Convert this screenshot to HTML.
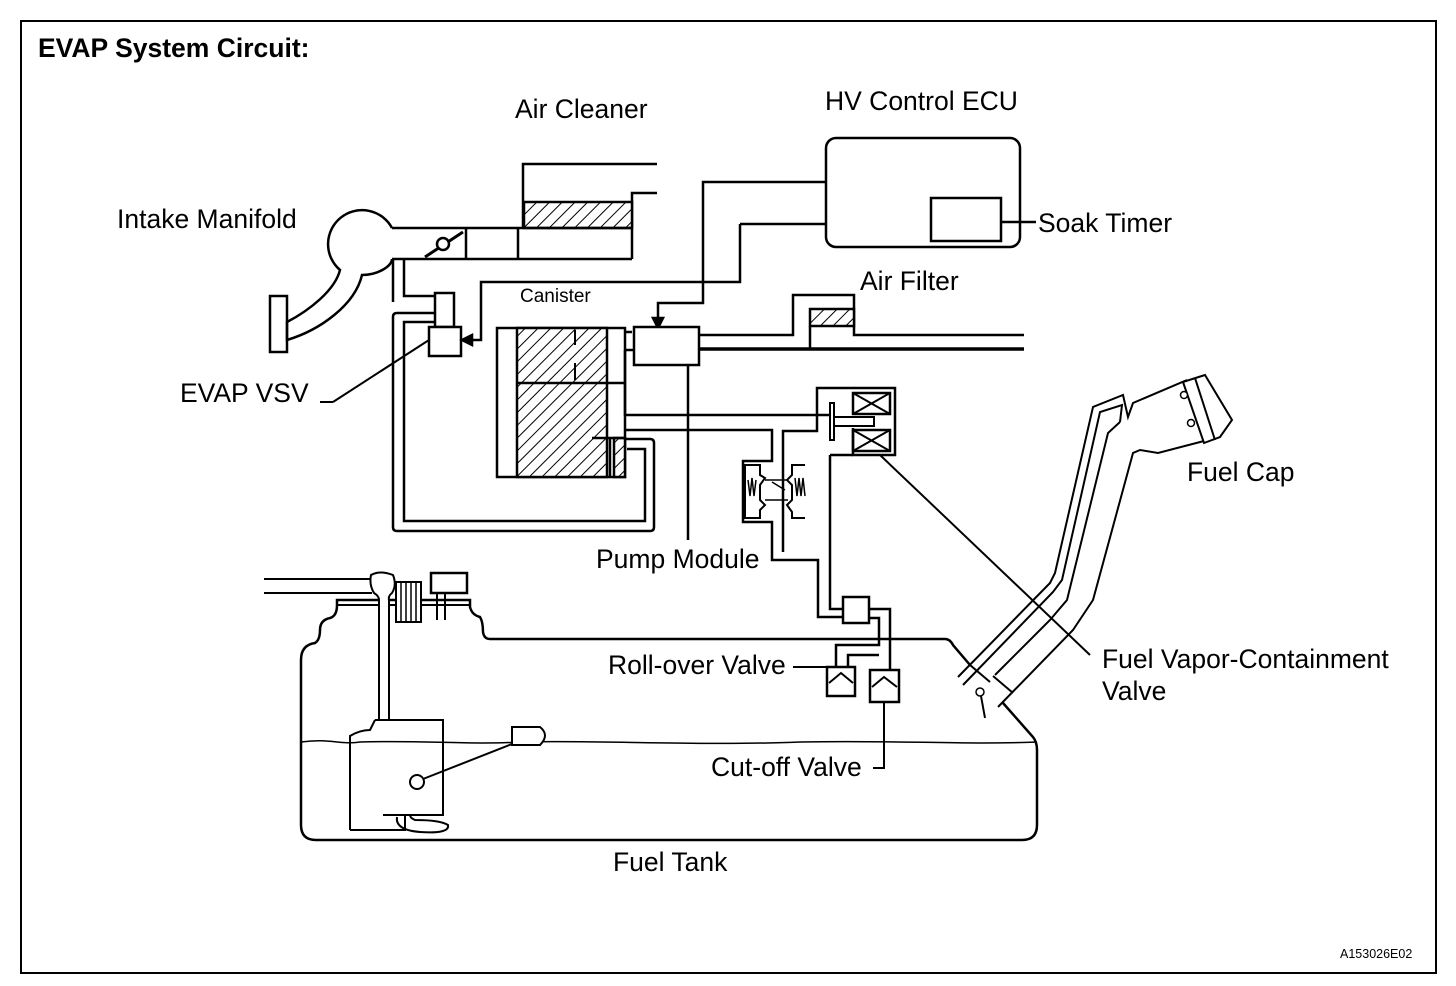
<!DOCTYPE html>
<html><head><meta charset="utf-8"><style>
html,body{margin:0;padding:0;background:#fff;}
svg{display:block;}
text{font-family:"Liberation Sans",Arial,sans-serif;fill:#000;}
</style></head><body>
<svg width="1456" height="986" viewBox="0 0 1456 986" xmlns="http://www.w3.org/2000/svg">
<defs>
<pattern id="h" patternUnits="userSpaceOnUse" width="9" height="9" patternTransform="rotate(45)">
<rect width="9" height="9" fill="#fff"/><line x1="0" y1="0" x2="0" y2="9" stroke="#000" stroke-width="2"/>
</pattern>
</defs>
<rect x="21" y="21" width="1415" height="952" fill="#fff" stroke="#000" stroke-width="2"/>
<text x="38" y="57" font-size="26.5" font-weight="bold">EVAP System Circuit:</text>

<g fill="none" stroke="#000" stroke-width="2.5">
<polyline points="657,164 523,164 523,228"/>
<polyline points="657,193 632,193 632,259"/>
<rect x="524" y="202" width="108" height="26" fill="url(#h)"/>
<polyline points="392,228 632,228"/>
<polyline points="392,259 632,259"/>
<line x1="466" y1="228" x2="466" y2="259"/>
<line x1="518" y1="228" x2="518" y2="259"/>
<line x1="425" y1="257" x2="463" y2="232" stroke-width="3"/>
<circle cx="443" cy="244" r="6" fill="#fff"/>
<path d="M392,228 A34,34 0 1 0 340,270 C335,290 310,310 287,322 L287,340 C320,330 355,305 362,275 C378,275 392,266 392,259"/>
<path d="M270,296 L287,296 L287,352 L270,352 Z"/>
<rect x="435" y="293" width="19" height="34" fill="#fff"/>
<rect x="429" y="327" width="32" height="29" fill="#fff"/>
<polyline points="404,259 404,296 435,296"/>
<polyline points="393,259 393,302 Q393,306 397,306 L435,306"/>
<path d="M435,313 L397,313 Q393,313 393,317 L393,527 Q393,531 397,531 L650,531 Q654,531 654,527 L654,443 Q654,439 650,439 L625,439"/>
<polyline points="435,322 404,322 404,521 645,521 645,449 627,449"/>
<polyline points="740,224 740,282 481,282 481,340 466,340"/>
<polygon points="462,340 472,335 472,345" fill="#000"/>
<polyline points="826,182 703,182 703,303 658,303 658,322"/>
<polygon points="658,328 653,318 663,318" fill="#000"/>
<polyline points="826,224 740,224"/>
<line x1="320" y1="402" x2="333" y2="402" stroke-width="2"/>
<line x1="333" y1="402" x2="429" y2="340" stroke-width="2"/>
<rect x="826" y="138" width="194" height="109" rx="10"/>
<rect x="931" y="198" width="70" height="43"/>
<line x1="1001" y1="222" x2="1036" y2="222"/>
<rect x="497" y="328" width="128" height="149" fill="#fff"/>
<rect x="517" y="328" width="90" height="149" fill="url(#h)"/>
<line x1="517" y1="383" x2="625" y2="383"/>
<line x1="575" y1="330" x2="575" y2="345" stroke-width="2"/>
<line x1="575" y1="363" x2="575" y2="380" stroke-width="2"/>
<rect x="614" y="438" width="11" height="39" fill="url(#h)"/>
<line x1="610" y1="438" x2="610" y2="477"/>
<line x1="592" y1="438" x2="625" y2="438"/>
<polyline points="625,332 632,332"/>
<polyline points="625,350 634,350"/>
<rect x="634" y="327" width="65" height="38" fill="#fff"/>
<polyline points="699,335 793,335 793,295 854,295 854,335 1024,335"/>
<line x1="699" y1="349" x2="1024" y2="349" stroke-width="3.5"/>
<rect x="810" y="309" width="44" height="17" fill="url(#h)"/>
<line x1="810" y1="326" x2="810" y2="349"/>
<line x1="688" y1="366" x2="688" y2="540"/>
<polyline points="625,350 625,415 830,415"/>
<polyline points="625,430 772,430 772,461 743,461 743,522 772,522 772,560 818,560 818,617 843,617"/>
<polyline points="783,552 783,431 817,431 817,388 895,388 895,455 853,455 853,428"/>
<polyline points="830,455 830,609 843,609"/>
<line x1="830" y1="455" x2="853" y2="455"/>
<rect x="853" y="393" width="37" height="21"/>
<line x1="853" y1="393" x2="890" y2="414" stroke-width="2"/><line x1="890" y1="393" x2="853" y2="414" stroke-width="2"/>
<rect x="853" y="430" width="37" height="21"/>
<line x1="853" y1="430" x2="890" y2="451" stroke-width="2"/><line x1="890" y1="430" x2="853" y2="451" stroke-width="2"/>
<rect x="830" y="403" width="4" height="37" fill="#fff" stroke-width="2"/>
<rect x="834" y="417" width="40" height="9" fill="#fff" stroke-width="2"/>
<path d="M745,465 L760,465 L760,475 L765,478 L760,485 L760,500 L765,505 L760,510 L760,518 L745,518 Z" stroke-width="2"/>
<path d="M805,465 L792,465 L792,475 L787,480 L792,485 L792,500 L787,505 L792,512 L792,518 L805,518" stroke-width="2"/>
<polyline points="748,480 750,496 752,478 754,496 756,480" stroke-width="1.5"/>
<polyline points="795,478 797,496 799,478 801,496 803,478 805,496" stroke-width="1.5"/>
<line x1="765" y1="480" x2="788" y2="480" stroke-width="1.5"/>
<line x1="765" y1="500" x2="788" y2="500" stroke-width="1.5"/>
<line x1="772" y1="482" x2="785" y2="490" stroke-width="1.5"/>
<rect x="843" y="597" width="26" height="26" fill="#fff"/>
<polyline points="869,609 890,609 890,670"/>
<polyline points="869,618 879,618 879,645 836,645 836,667"/>
<polyline points="879,655 848,655 848,667"/>
<rect x="827" y="667" width="28" height="29" fill="#fff"/>
<polyline points="829,683 841,673 853,683" stroke-width="2"/>
<rect x="870" y="670" width="29" height="32" fill="#fff"/>
<polyline points="872,687 884,677 897,687" stroke-width="2"/>
<polyline points="884,702 884,768 873,768" stroke-width="2"/>
<line x1="793" y1="667" x2="827" y2="667" stroke-width="2"/>
<line x1="880" y1="455" x2="1090" y2="655" stroke-width="2"/>
<path d="M490,639 L945,639 Q950,639 953,645 L970,665 M1003,703 L1033,737 Q1037,742 1037,750 L1037,825 Q1037,840 1022,840 L316,840 Q301,840 301,825 L301,660 Q301,645 315,643 Q320,640 320,630 Q320,620 330,618 Q337,616 337,605 L337,600 L470,600 L470,607 Q472,615 480,617 Q483,622 483,632 Q484,639 490,639" stroke-width="2.5"/>
<path d="M301,742 C330,738 340,745 360,742 C420,740 470,745 520,742 C600,740 700,746 800,742 C900,740 960,745 1037,742" stroke-width="1.5"/>
<line x1="337" y1="605" x2="470" y2="605" stroke-width="2"/>
<line x1="264" y1="579" x2="372" y2="579" stroke-width="2"/>
<line x1="264" y1="593" x2="372" y2="593" stroke-width="2"/>
<path d="M371,575 Q380,570 393,575 Q397,585 392,593 Q388,596 389,600 L389,720 L379,720 L379,600 Q379,596 374,593 Q369,585 371,575 Z" fill="#fff" stroke-width="2"/>
<rect x="396" y="582" width="25" height="40" fill="#fff" stroke-width="2"/>
<path d="M401,582v40M406,582v40M411,582v40M416,582v40" stroke-width="1.5"/>
<rect x="431" y="573" width="36" height="20" fill="#fff" stroke-width="2.5"/>
<path d="M437,593v27M445,593v27" stroke-width="2"/>
<path d="M375,720 L443,720 L443,815 L383,815 M350,830 L350,736 Q360,730 370,730 L375,720" stroke-width="2"/>
<path d="M350,830 L405,830 L405,815" stroke-width="2"/>
<path d="M397,817 Q395,830 420,832 Q450,834 448,825 Q440,820 415,820 Q410,818 410,815" stroke-width="2"/>
<circle cx="417" cy="782" r="7" fill="#fff" stroke-width="2"/>
<line x1="423" y1="779" x2="512" y2="744" stroke-width="2"/>
<path d="M512,727 L540,727 Q550,735 540,745 L512,745 Z" fill="#fff" stroke-width="2"/>
<polyline points="958,677 1050,583 1055,573 1093,407 1123,395 1128,417 1133,403 1187,380" stroke-width="2"/>
<polyline points="963,685 1053,592 1062,580 1100,412 1122,405 1120,422" stroke-width="2"/>
<polyline points="995,675 1050,620 1067,600 1108,433 1120,422" stroke-width="2"/>
<polyline points="998,707 1073,630 1093,600 1133,453 1140,450 1158,453 1204,441" stroke-width="2"/>
<path d="M1183,382 L1205,375 L1232,420 L1220,437 L1204,443 Z" fill="#fff" stroke-width="2"/>
<line x1="1195" y1="378" x2="1215" y2="440" stroke-width="2"/>
<circle cx="1184" cy="395" r="3.5" fill="#fff" stroke-width="1.5"/>
<circle cx="1191" cy="423" r="3.5" fill="#fff" stroke-width="1.5"/>
<line x1="970" y1="665" x2="990" y2="682" stroke-width="2"/>
<line x1="993" y1="676" x2="1013" y2="693" stroke-width="2"/>
<circle cx="980" cy="692" r="4" fill="#fff" stroke-width="1.5"/>
<line x1="981" y1="696" x2="985" y2="718" stroke-width="2"/>
</g>

<g font-size="26.5">
<text x="515" y="118">Air Cleaner</text>
<text x="825" y="110">HV Control ECU</text>
<text x="117" y="228">Intake Manifold</text>
<text x="1038" y="232">Soak Timer</text>
<text x="860" y="290">Air Filter</text>
<text x="180" y="402">EVAP VSV</text>
<text x="1187" y="481">Fuel Cap</text>
<text x="596" y="568">Pump Module</text>
<text x="608" y="674">Roll-over Valve</text>
<text x="1102" y="668">Fuel Vapor-Containment</text>
<text x="1102" y="700">Valve</text>
<text x="711" y="776">Cut-off Valve</text>
<text x="613" y="871">Fuel Tank</text>
</g>
<text x="520" y="302" font-size="19">Canister</text>
<text x="1340" y="958" font-size="12.5">A153026E02</text>
</svg>
</body></html>
